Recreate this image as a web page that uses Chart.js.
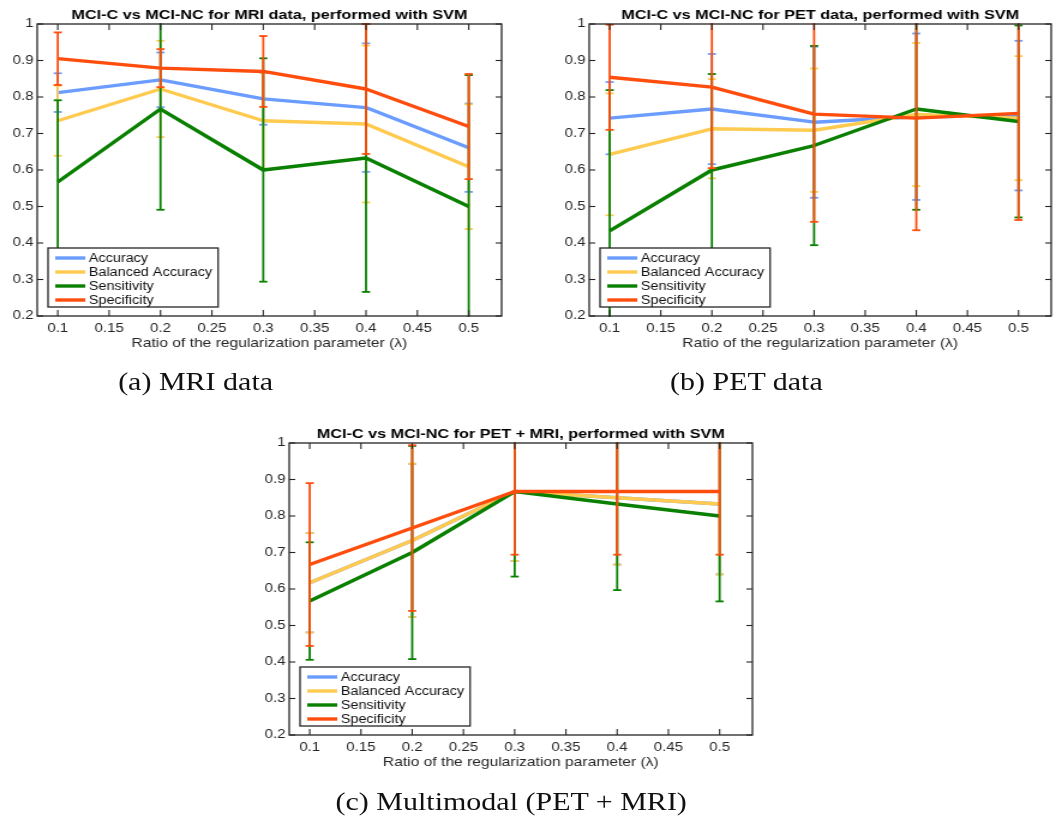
<!DOCTYPE html>
<html>
<head>
<meta charset="utf-8">
<script src="https://cdn.jsdelivr.net/npm/chart.js@4.4.1/dist/chart.umd.min.js"></script>
<style>
  html, body { margin: 0; padding: 0; background: #fff; }
  body { width: 1062px; height: 818px; overflow: hidden; }
  /* the source figure is stretched horizontally, so draw narrow and widen */
  #page { position: relative; width: 885px; height: 818px; transform: scaleX(1.2); transform-origin: 0 0; }
  .panel { position: absolute; }
  .caption { position: absolute; font-family: "Liberation Serif", "Times New Roman", serif; font-size: 25px;
             line-height: 28px; color: #111; white-space: nowrap; transform: translateX(-50%); }
</style>
</head>
<body>
<div id="page">
  <div class="panel" style="left:0px;top:0px;width:440px;height:360px"><canvas id="mriChart"></canvas></div>
  <div class="panel" style="left:460px;top:0px;width:420px;height:360px"><canvas id="petChart"></canvas></div>
  <div class="panel" style="left:210px;top:419px;width:440px;height:360px"><canvas id="multiChart"></canvas></div>
  <div class="caption" style="left:163px;top:368px">(a) MRI data</div>
  <div class="caption" style="left:622px;top:368px">(b) PET data</div>
  <div class="caption" style="left:426px;top:788px">(c) Multimodal (PET + MRI)</div>
</div>
<script>
const lambdas = [0.1, 0.2, 0.3, 0.4, 0.5];
const seriesNames = ['Accuracy', 'Balanced Accuracy', 'Sensitivity', 'Specificity'];
const seriesColors = ['#6b9cff', '#ffca50', '#0a8000', '#ff4d0d'];
const xTicks = [0.1, 0.15, 0.2, 0.25, 0.3, 0.35, 0.4, 0.45, 0.5];
const yTicks = [0.2, 0.3, 0.4, 0.5, 0.6, 0.7, 0.8, 0.9, 1];
const xTitle = 'Ratio of the regularization parameter (\u03bb)';

// MRI: means and half-widths of the error bars
const mriAcc = [0.812, 0.847, 0.795, 0.771, 0.661];
const mriBal = [0.735, 0.822, 0.735, 0.726, 0.609];
const mriSen = [0.567, 0.767, 0.600, 0.633, 0.500];
const mriSpe = [0.905, 0.879, 0.870, 0.822, 0.719];
const mriAccErr = [0.053, 0.075, 0.071, 0.176, 0.121];
const mriBalErr = [0.096, 0.132, 0.131, 0.215, 0.171];
const mriSenErr = [0.224, 0.276, 0.306, 0.367, 0.360];
const mriSpeErr = [0.072, 0.052, 0.097, 0.178, 0.144];

// PET
const petAcc = [0.742, 0.767, 0.731, 0.746, 0.749];
const petBal = [0.643, 0.713, 0.709, 0.752, 0.742];
const petSen = [0.433, 0.600, 0.667, 0.767, 0.733];
const petSpe = [0.854, 0.827, 0.753, 0.742, 0.755];
const petAccErr = [0.099, 0.151, 0.207, 0.228, 0.205];
const petBalErr = [0.167, 0.136, 0.169, 0.196, 0.170];
const petSenErr = [0.386, 0.263, 0.273, 0.276, 0.263];
const petSpeErr = [0.144, 0.222, 0.295, 0.307, 0.292];

// PET + MRI (accuracy sits under the balanced accuracy line)
const mmAcc = [0.617, 0.733, 0.867, 0.850, 0.833];
const mmBal = [0.617, 0.733, 0.867, 0.850, 0.833];
const mmSen = [0.567, 0.700, 0.867, 0.833, 0.800];
const mmSpe = [0.667, 0.767, 0.867, 0.867, 0.867];
const mmAccErr = [0.136, 0.210, 0.190, 0.183, 0.193];
const mmBalErr = [0.136, 0.210, 0.190, 0.183, 0.193];
const mmSenErr = [0.161, 0.292, 0.233, 0.236, 0.234];
const mmSpeErr = [0.223, 0.227, 0.173, 0.173, 0.173];

const FONT = '"Liberation Sans", Arial, Helvetica, sans-serif';
const AXIS = '#262626';

function line(ctx, x1, y1, x2, y2) {
  ctx.beginPath();
  ctx.moveTo(x1, y1);
  ctx.lineTo(x2, y2);
  ctx.stroke();
}

const matlabLook = {
  id: 'matlabLook',
  afterDatasetDraw(chart, args) {
    const ds = chart.data.datasets[args.index];
    if (!ds.errors) return;
    const {ctx, chartArea: a, scales: {x, y}} = chart;
    ctx.save();
    ctx.beginPath();
    ctx.rect(a.left, a.top - 1, a.right - a.left, a.bottom - a.top + 2);
    ctx.clip();
    ctx.strokeStyle = ds.borderColor;
    ctx.lineWidth = 1.8;
    ds.data.forEach((p, i) => {
      const px = x.getPixelForValue(p.x);
      const top = y.getPixelForValue(p.y + ds.errors[i]);
      const bot = y.getPixelForValue(p.y - ds.errors[i]);
      line(ctx, px, top, px, bot);
      line(ctx, px - 3.4, top, px + 3.4, top);
      line(ctx, px - 3.4, bot, px + 3.4, bot);
    });
    ctx.restore();
  },
  afterDatasetsDraw(chart) {
    const {ctx, chartArea: a, scales: {x, y}} = chart;
    ctx.save();
    ctx.strokeStyle = AXIS;
    ctx.lineWidth = 1.3;
    ctx.strokeRect(a.left, a.top, a.right - a.left, a.bottom - a.top);
    ctx.lineWidth = 1.1;
    xTicks.forEach(v => {
      const px = x.getPixelForValue(v);
      line(ctx, px, a.bottom, px, a.bottom - 6);
      line(ctx, px, a.top, px, a.top + 6);
    });
    yTicks.forEach(v => {
      const py = y.getPixelForValue(v);
      line(ctx, a.left, py, a.left + 5, py);
      line(ctx, a.right, py, a.right - 5, py);
    });
    ctx.restore();
  },
  afterDraw(chart, args, opts) {
    const {ctx, chartArea: a} = chart;
    ctx.save();
    // title
    ctx.font = 'bold 13.5px ' + FONT;
    ctx.fillStyle = '#000';
    ctx.textAlign = 'center';
    ctx.textBaseline = 'middle';
    ctx.fillText(opts.title, (a.left + a.right) / 2, 15);
    // legend box, lower left inside the axes
    ctx.font = '12px ' + FONT;
    const tw = Math.max(...seriesNames.map(n => ctx.measureText(n).width));
    const lx = a.left + 9, ly = a.bottom - 9 - 59;
    const w = 34 + tw + 5;
    ctx.fillStyle = '#fff';
    ctx.fillRect(lx, ly, w, 59);
    ctx.strokeStyle = AXIS;
    ctx.lineWidth = 1.3;
    ctx.strokeRect(lx, ly, w, 59);
    ctx.textAlign = 'left';
    seriesNames.forEach((n, i) => {
      const cy = ly + 10 + 14 * i;
      ctx.strokeStyle = seriesColors[i];
      ctx.lineWidth = 3.4;
      line(ctx, lx + 6, cy, lx + 31, cy);
      ctx.fillStyle = '#111';
      ctx.fillText(n, lx + 34, cy + 0.5);
    });
    ctx.restore();
  }
};

function makeChart(id, title, means, errs, padRight) {
  const datasets = means.map((m, i) => ({
    label: seriesNames[i],
    data: lambdas.map((v, j) => ({x: v, y: m[j]})),
    errors: errs[i],
    borderColor: seriesColors[i],
    backgroundColor: seriesColors[i],
    borderWidth: 3.4,
    borderJoinStyle: 'round',
    pointRadius: 0,
    tension: 0,
    fill: false,
    order: means.length - 1 - i   // later series drawn on top
  }));
  return new Chart(document.getElementById(id), {
    type: 'line',
    data: {datasets},
    options: {
      responsive: true,
      maintainAspectRatio: false,
      animation: false,
      events: [],
      layout: {padding: {top: 24, right: padRight, bottom: 0, left: 0}},
      plugins: {legend: {display: false}, tooltip: {enabled: false}, title: {display: false}, matlabLook: {title}},
      scales: {
        x: {
          type: 'linear', min: 0.08, max: 0.532,
          grid: {display: false, drawTicks: false}, border: {display: false},
          afterBuildTicks: s => { s.ticks = xTicks.map(v => ({value: v})); },
          afterFit: s => { s.height = 44; },
          ticks: {autoSkip: false, maxRotation: 0, padding: 5, color: AXIS,
                  font: {family: FONT, size: 12.5}, callback: v => String(v)},
          title: {display: true, text: xTitle, color: AXIS, padding: {top: 0, bottom: 9},
                  font: {family: FONT, size: 13}}
        },
        y: {
          type: 'linear', min: 0.2, max: 1,
          grid: {display: false, drawTicks: false}, border: {display: false},
          afterBuildTicks: s => { s.ticks = yTicks.map(v => ({value: v})); },
          afterFit: s => { s.width = 31; },
          ticks: {padding: 3, color: AXIS, font: {family: FONT, size: 12.5}, callback: v => String(v)}
        }
      }
    },
    plugins: [matlabLook]
  });
}

makeChart('mriChart', 'MCI-C vs MCI-NC for MRI data, performed with SVM',
  [mriAcc, mriBal, mriSen, mriSpe], [mriAccErr, mriBalErr, mriSenErr, mriSpeErr], 22);
makeChart('petChart', 'MCI-C vs MCI-NC for PET data, performed with SVM',
  [petAcc, petBal, petSen, petSpe], [petAccErr, petBalErr, petSenErr, petSpeErr], 4);
makeChart('multiChart', 'MCI-C vs MCI-NC for PET + MRI, performed with SVM',
  [mmAcc, mmBal, mmSen, mmSpe], [mmAccErr, mmBalErr, mmSenErr, mmSpeErr], 23);
</script>
</body>
</html>
